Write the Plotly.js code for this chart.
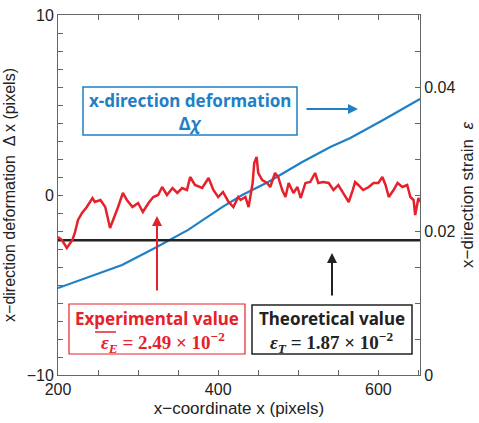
<!DOCTYPE html>
<html><head><meta charset="utf-8">
<script src="https://cdn.plot.ly/plotly-3.0.1.min.js"></script>
<style>body{margin:0;background:#fff}#c{width:479px;height:423px}</style>
</head><body><div id="c"></div>
<script>
// Blue: x-direction deformation (pixels), left axis
const blueX = [200, 237.5, 280, 321, 362.5, 405, 430, 462.5, 505, 540, 565, 606, 652];
const blueY = [-5.17, -4.56, -3.89, -2.94, -1.94, -0.67, 0, 0.72, 1.83, 2.67, 3.17, 4.17, 5.33];
// Red: experimental strain, right axis
const redX = [200,205,211,218,221,225,230,236,243,246,253,259,265,269,275,281,286,293,300,306,313,319,325,330,336,343,349,355,361,365,371,380,388,394,400,406,413,419,425,428,434,438,443,445,448,450,455,461,465,471,475,480,484,488,494,499,503,509,515,521,525,531,538,544,550,556,563,568,571,575,581,588,594,600,605,609,613,619,624,630,636,640,644,646,650,652];
const redY = [0.01917,0.01875,0.01764,0.01875,0.01972,0.02153,0.02250,0.02333,0.02458,0.02403,0.02431,0.02333,0.02042,0.02153,0.02333,0.02528,0.02431,0.02333,0.02389,0.02264,0.02389,0.02472,0.02500,0.02611,0.02500,0.02597,0.02528,0.02597,0.02569,0.02750,0.02639,0.02597,0.02736,0.02569,0.02472,0.02542,0.02403,0.02333,0.02472,0.02431,0.02472,0.02333,0.02667,0.02944,0.03028,0.02806,0.02708,0.02667,0.02611,0.02806,0.02750,0.02569,0.02472,0.02667,0.02528,0.02611,0.02458,0.02667,0.02681,0.02806,0.02667,0.02681,0.02667,0.02569,0.02639,0.02528,0.02403,0.02569,0.02681,0.02639,0.02569,0.02611,0.02667,0.02667,0.02750,0.02639,0.02472,0.02569,0.02667,0.02611,0.02639,0.02472,0.02431,0.02222,0.02458,0.02403];
// Black: theoretical strain
const theoX = [200, 652];
const theoY = [0.0187, 0.0187];

const BLUE = '#1f80c6', RED = '#e5222c', AX = '#666666';
const FONT = 'Liberation Sans, Arial, sans-serif';
const LBL = 'Noto Sans, sans-serif';
const MATH = 'Liberation Serif, serif';

const traces = [
  {x: blueX, y: blueY, type: 'scatter', mode: 'lines', line: {color: BLUE, width: 2.2}, yaxis: 'y', hoverinfo: 'skip'},
  {x: theoX, y: theoY, type: 'scatter', mode: 'lines', line: {color: '#222', width: 2.5}, yaxis: 'y2', hoverinfo: 'skip'},
  {x: redX, y: redY, type: 'scatter', mode: 'lines', line: {color: RED, width: 2.5}, yaxis: 'y2', hoverinfo: 'skip'}
];

function px(x){return (x-58)/362;}
function py(y){return (375-y)/360;}
function lab(x, y, text, size, fam, color){
  return {xref: 'paper', yref: 'paper', x: px(x), y: py(y), xanchor: 'center', yanchor: 'middle', text: text, showarrow: false, font: {size: size, family: fam, color: color}};
}

const layout = {
  width: 479, height: 423,
  margin: {l: 58, r: 59, t: 15, b: 48},
  paper_bgcolor: '#fff', plot_bgcolor: '#fff',
  showlegend: false,
  font: {family: FONT, size: 16, color: '#222'},
  xaxis: {
    range: [200, 652], tick0: 200, dtick: 200, ticks: 'inside', ticklen: 5, tickcolor: AX,
    minor: {dtick: 50, ticks: 'inside', ticklen: 5, tickcolor: AX},
    showline: true, linecolor: AX, linewidth: 1, mirror: 'ticks', showgrid: false, zeroline: false,
    tickfont: {size: 16, family: FONT},
    title: {text: 'x−coordinate x (pixels)', font: {size: 17, family: FONT}, standoff: 4}
  },
  yaxis: {
    range: [-10, 10], tickvals: [-10, 0, 10], ticktext: ['−10', '0', '10'], ticks: 'inside', ticklen: 5, tickcolor: AX,
    minor: {dtick: 1, ticks: 'inside', ticklen: 5, tickcolor: AX},
    showline: true, linecolor: AX, linewidth: 1, showgrid: false, zeroline: false,
    tickfont: {size: 16, family: FONT},
    title: {text: 'x−direction deformation  Δ x (pixels)', font: {size: 16, family: FONT}, standoff: 7}
  },
  yaxis2: {
    overlaying: 'y', side: 'right', range: [0, 0.05], tickvals: [0, 0.02, 0.04], ticktext: ['0', '0.02', '0.04'],
    ticks: 'inside', ticklen: 5, tickcolor: AX,
    minor: {dtick: 0.005, ticks: 'inside', ticklen: 5, tickcolor: AX},
    showline: true, linecolor: AX, linewidth: 1, showgrid: false, zeroline: false,
    tickfont: {size: 16, family: FONT},
    title: {text: 'x−direction strain  <i>ε</i>', font: {size: 17, family: FONT}, standoff: 6}
  },
  shapes: [
    {type: 'rect', xref: 'paper', yref: 'paper', x0: px(83), x1: px(297), y0: py(135), y1: py(87), line: {color: BLUE, width: 1.5}, fillcolor: 'rgba(0,0,0,0)'},
    {type: 'rect', xref: 'paper', yref: 'paper', x0: px(69), x1: px(245), y0: py(354), y1: py(304), line: {color: RED, width: 1.2}, fillcolor: 'rgba(0,0,0,0)'},
    {type: 'rect', xref: 'paper', yref: 'paper', x0: px(252), x1: px(412), y0: py(354), y1: py(305), line: {color: '#222', width: 1.5}, fillcolor: 'rgba(0,0,0,0)'},
    {type: 'line', xref: 'paper', yref: 'paper', x0: px(95), x1: px(116), y0: py(332), y1: py(332), line: {color: RED, width: 1.5}}
  ],
  annotations: [
    lab(190, 100, '<b>x-direction deformation</b>', 17, LBL, BLUE),
    lab(190, 123, '<b>Δ<i>χ</i></b>', 17, LBL, BLUE),
    lab(157, 318, '<b>Experimental value</b>', 17, LBL, RED),
    lab(163, 342, '<b><i>ε<sub>E</sub></i> = 2.49 × 10<sup>−2</sup></b>', 19, MATH, RED),
    lab(332, 318, '<b>Theoretical value</b>', 17, LBL, '#222'),
    lab(331, 342, '<b><i>ε<sub>T</sub></i> = 1.87 × 10<sup>−2</sup></b>', 19, MATH, '#222'),
    {xref: 'paper', yref: 'paper', x: px(358), y: py(109), ax: -53, ay: 0, text: '', showarrow: true, arrowhead: 2, arrowsize: 1, arrowwidth: 2, arrowcolor: BLUE},
    {xref: 'paper', yref: 'paper', x: px(157), y: py(216), ax: 0, ay: 76, text: '', showarrow: true, arrowhead: 2, arrowsize: 1, arrowwidth: 2, arrowcolor: RED},
    {xref: 'paper', yref: 'paper', x: px(332), y: py(253), ax: 0, ay: 44, text: '', showarrow: true, arrowhead: 2, arrowsize: 1, arrowwidth: 2, arrowcolor: '#222'}
  ]
};
Plotly.newPlot('c', traces, layout, {displayModeBar: false, staticPlot: true});
</script></body></html>
